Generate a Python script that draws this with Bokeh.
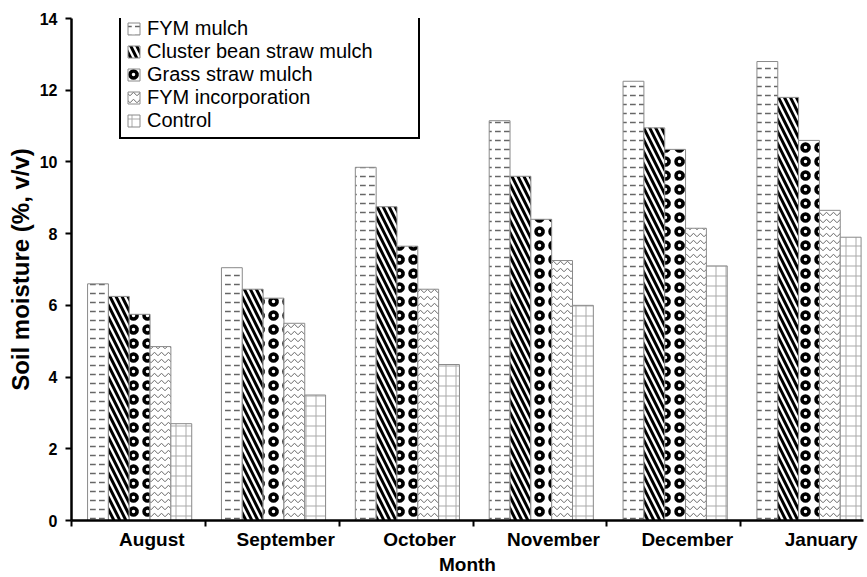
import numpy as np
from bokeh.plotting import figure
from bokeh.models import ColumnDataSource, Range1d, FixedTicker, Legend, LegendItem
from bokeh.embed import file_html
from bokeh.resources import INLINE

months = ["August", "September", "October", "November", "December", "January"]
series_names = ["FYM mulch", "Cluster bean straw mulch", "Grass straw mulch",
                "FYM incorporation", "Control"]
fym_mulch = [6.6, 7.05, 9.85, 11.15, 12.25, 12.8]
cluster_bean = [6.25, 6.45, 8.75, 9.6, 10.95, 11.8]
grass_straw = [5.75, 6.2, 7.65, 8.4, 10.35, 10.6]
fym_incorp = [4.85, 5.5, 6.45, 7.25, 8.15, 8.65]
control = [2.7, 3.5, 4.35, 6.0, 7.1, 7.9]
y_ticks = [0, 2, 4, 6, 8, 10, 12, 14]

series = [fym_mulch, cluster_bean, grass_straw, fym_incorp, control]
styles = [
    dict(hatch_pattern='"', hatch_color="#666666", hatch_scale=9, hatch_weight=1.5),
    dict(hatch_pattern="\\", hatch_color="black", hatch_scale=12, hatch_weight=3),
    dict(hatch_pattern="o", hatch_color="black", hatch_scale=14, hatch_weight=3.5),
    dict(hatch_pattern="v", hatch_color="#666666", hatch_scale=7, hatch_weight=1),
    dict(hatch_pattern="+", hatch_color="#aaaaaa", hatch_scale=10, hatch_weight=1),
]

FONT = "Liberation Sans"
W, H = 867, 577
p = figure(width=W, height=H, output_backend="svg", toolbar_location=None,
           x_range=Range1d(0, 5.916), y_range=Range1d(0, 14),
           min_border_left=71, min_border_right=4, min_border_top=18, min_border_bottom=55)
p.outline_line_color = None
p.xgrid.visible = False
p.ygrid.visible = False

bar_w = 0.1556
offset = 0.12
items = []
for j, (name, vals, st) in enumerate(zip(series_names, series, styles)):
    xs = [i + offset + (j + 0.5) * bar_w for i in range(len(months))]
    src = ColumnDataSource(dict(x=xs, top=vals))
    r = p.vbar(x="x", top="top", width=bar_w, source=src, fill_color="white",
               line_color="#8a8a8a", line_width=1, **st)
    items.append(LegendItem(label=name, renderers=[r]))

legend = Legend(items=items, location=(48, 381))
legend.label_text_font = FONT
legend.label_text_font_size = "20px"
legend.label_text_color = "black"
legend.glyph_width = 15
legend.glyph_height = 15
legend.label_standoff = 6
legend.label_height = 23
legend.label_width = 266
legend.spacing = 0
legend.padding = 5
legend.margin = 0
legend.border_line_color = "black"
legend.border_line_alpha = 1
legend.border_line_width = 2
legend.background_fill_alpha = 1
p.add_layout(legend)

label_pos = [i + 0.6 for i in range(len(months))]
p.xaxis.ticker = FixedTicker(ticks=label_pos, minor_ticks=list(range(len(months))))
p.xaxis.major_label_overrides = {pos: m for pos, m in zip(label_pos, months)}
p.xaxis.major_tick_out = 0
p.xaxis.major_tick_in = 0
p.xaxis.minor_tick_out = 6
p.xaxis.minor_tick_in = 0
p.xaxis.minor_tick_line_width = 2
p.xaxis.axis_line_width = 2.5
p.xaxis.axis_label = "Month"

p.yaxis.ticker = FixedTicker(ticks=y_ticks)
p.yaxis.major_tick_out = 6
p.yaxis.major_tick_in = 0
p.yaxis.minor_tick_out = 0
p.yaxis.minor_tick_in = 0
p.yaxis.major_tick_line_width = 2
p.yaxis.axis_line_width = 2.5
p.yaxis.axis_label = "Soil moisture (%, v/v)"

for ax in (p.xaxis[0], p.yaxis[0]):
    ax.major_label_text_font = FONT
    ax.major_label_text_font_style = "bold"
    ax.major_label_text_color = "black"
    ax.axis_label_text_font = FONT
    ax.axis_label_text_font_style = "bold"
    ax.axis_label_text_color = "black"
    ax.axis_line_color = "black"

p.xaxis.major_label_text_font_size = "19px"
p.xaxis.axis_label_text_font_size = "19px"
p.xaxis.major_label_standoff = 2
p.xaxis.axis_label_standoff = 1
p.yaxis.major_label_text_font_size = "16px"
p.yaxis.axis_label_text_font_size = "24px"
p.yaxis.major_label_standoff = 8
p.yaxis.axis_label_standoff = 3

open("out.html", "w").write(file_html(p, INLINE))
